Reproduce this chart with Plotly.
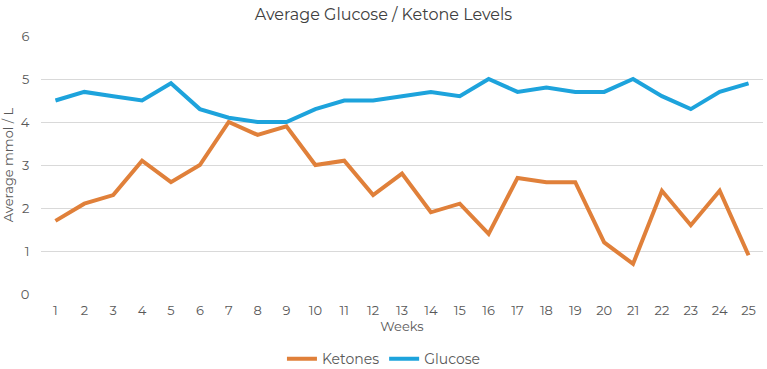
import plotly.graph_objects as go

weeks = [str(i) for i in range(1, 26)]
ketones = [1.7, 2.1, 2.3, 3.1, 2.6, 3.0, 4.0, 3.7, 3.9, 3.0, 3.1, 2.3, 2.8, 1.9, 2.1, 1.4, 2.7, 2.6, 2.6, 1.2, 0.7, 2.4, 1.6, 2.4, 0.9]
glucose = [4.5, 4.7, 4.6, 4.5, 4.9, 4.3, 4.1, 4.0, 4.0, 4.3, 4.5, 4.5, 4.6, 4.7, 4.6, 5.0, 4.7, 4.8, 4.7, 4.7, 5.0, 4.6, 4.3, 4.7, 4.9]

font_family = "Montserrat, 'Open Sans', sans-serif"
fig = go.Figure()
fig.add_trace(go.Scatter(x=weeks, y=ketones, name="Ketones", mode="lines",
                         line=dict(color="#E0803A", width=4)))
fig.add_trace(go.Scatter(x=weeks, y=glucose, name="Glucose", mode="lines",
                         line=dict(color="#1DA3DC", width=4)))

fig.update_layout(
    width=767, height=369,
    margin=dict(l=41, r=4, t=36, b=75, autoexpand=False),
    paper_bgcolor="white", plot_bgcolor="white",
    font=dict(family=font_family, size=13, color="#595959"),
    title=dict(text="Average Glucose / Ketone Levels", x=0.5, xanchor="center",
               y=0.962, yanchor="middle", font=dict(size=16, color="#404040")),
    xaxis=dict(type="category", range=[-0.5, 24.5], showgrid=False,
               showline=False, zeroline=False, ticks="outside", ticklen=4,
               tickcolor="rgba(0,0,0,0)", automargin=False,
               title=dict(text="Weeks", standoff=2, font=dict(size=13))),
    yaxis=dict(range=[0, 6], dtick=1, showgrid=True, gridcolor="#D9D9D9",
               gridwidth=1, zeroline=False, showline=False, ticks="outside",
               ticklen=8, tickcolor="rgba(0,0,0,0)", automargin=False,
               title=dict(text="Average mmol / L", standoff=7, font=dict(size=13))),
    legend=dict(orientation="h", x=0.475, xanchor="center", y=-0.315, yanchor="bottom",
                font=dict(size=14), itemwidth=30, tracegroupgap=0),
    showlegend=True,
)
fig.update_xaxes(tickfont=dict(size=13))
fig.write_html("out.html")
